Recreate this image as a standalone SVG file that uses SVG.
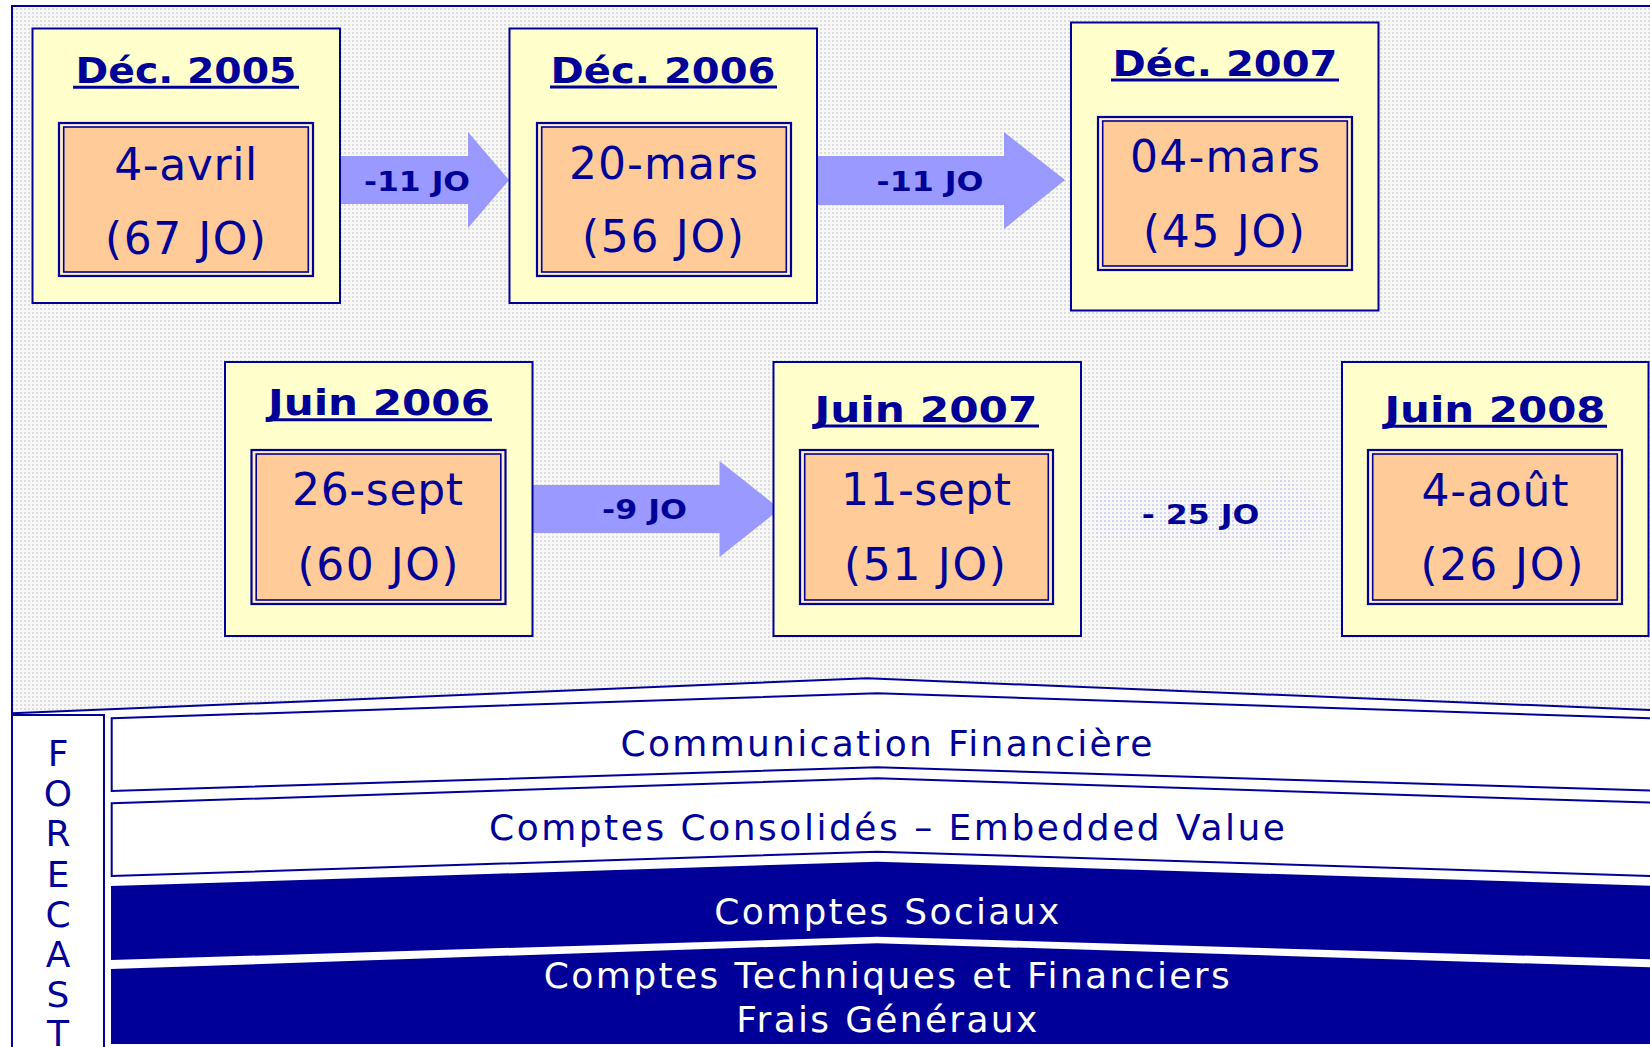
<svg xmlns="http://www.w3.org/2000/svg" width="1650" height="1047" viewBox="0 0 1650 1047">
<defs>
<pattern id="dots" width="4" height="4" patternUnits="userSpaceOnUse">
<rect width="4" height="4" fill="#f7f7f7"/>
<rect width="2" height="2" fill="#dddddd"/>
</pattern>
<pattern id="bdots" width="4" height="4" patternUnits="userSpaceOnUse">
<rect width="2" height="2" fill="#c8c8ff"/>
</pattern>
</defs>
<style>
.box{fill:#ffffcc;stroke:#000099;stroke-width:2}
.io{fill:#ffeec8;stroke:#000099;stroke-width:2.2}
.ii{fill:#ffcc99;stroke:#000099;stroke-width:1.6}
.t{font-family:"DejaVu Sans",Verdana,sans-serif;fill:#000099;text-anchor:middle}
.title{font-weight:bold;font-size:36px}
.ul{stroke:#000099;stroke-width:3}
.val{font-size:44px}
.arrow{fill:#9999ff}
.al{font-weight:bold;font-size:26px}
.band{fill:#ffffff;stroke:#000099;stroke-width:2}
.dband{fill:#000099}
.bt{font-size:36px}
.w{fill:#ffffff}
.fc{font-size:36px}
.frame{fill:none;stroke:#000099;stroke-width:2}
</style>
<rect x="0" y="0" width="1650" height="1047" fill="#ffffff"/>
<rect x="12" y="6" width="1640" height="1045" fill="url(#dots)"/>
<path class="frame" d="M12,1047 V6 H1652"/>

<g id="connectors">
<g id="arrow-1">
<polygon class="arrow" points="341,156 468,156 468,132 509,180 468,228 468,204 341,204"/>
<text class="t al" x="417" y="190.7" textLength="106" lengthAdjust="spacingAndGlyphs">-11 JO</text>
</g>
<g id="arrow-2">
<polygon class="arrow" points="818,156 1004,156 1004,132 1065,180 1004,229 1004,205 818,205"/>
<text class="t al" x="930" y="190.7" textLength="107" lengthAdjust="spacingAndGlyphs">-11 JO</text>
</g>
<g id="arrow-3">
<polygon class="arrow" points="533,485 719.5,485 719.5,461 780,509 719.5,557 719.5,533 533,533"/>
<text class="t al" x="644.5" y="519.3" textLength="85" lengthAdjust="spacingAndGlyphs">-9 JO</text>
</g>
<g id="arrow-4">
<polygon fill="url(#bdots)" opacity="0.5" points="1095,492 1275,492 1275,468 1330,515 1275,563 1275,538 1095,538"/>
<text class="t al" x="1200.5" y="524" textLength="117.6" lengthAdjust="spacingAndGlyphs">- 25 JO</text>
</g>
</g>

<g id="node-dec2005">
<rect class="box" x="32.5" y="28.5" width="307.5" height="274.5"/>
<text class="t title" x="186" y="83" textLength="221" lengthAdjust="spacingAndGlyphs">Déc. 2005</text>
<line class="ul" x1="73" y1="87.3" x2="299" y2="87.3"/>
<rect class="io" x="59" y="123" width="254" height="153"/>
<rect class="ii" x="63.7" y="127" width="244.6" height="145"/>
<text class="t val" x="185.7" y="180" textLength="143" lengthAdjust="spacing">4-avril</text>
<text class="t val" x="185.5" y="254" textLength="161" lengthAdjust="spacing">(67 JO)</text>
</g>

<g id="node-dec2006">
<rect class="box" x="509.5" y="28.5" width="307.5" height="274.5"/>
<text class="t title" x="663" y="83" textLength="225" lengthAdjust="spacingAndGlyphs">Déc. 2006</text>
<line class="ul" x1="550" y1="87" x2="777" y2="87"/>
<rect class="io" x="537" y="123" width="254" height="153"/>
<rect class="ii" x="541.7" y="127" width="244.6" height="145"/>
<text class="t val" x="663.5" y="178.5" textLength="189" lengthAdjust="spacing">20-mars</text>
<text class="t val" x="663" y="252" textLength="162" lengthAdjust="spacing">(56 JO)</text>
</g>

<g id="node-dec2007">
<rect class="box" x="1071" y="22.5" width="307.5" height="288"/>
<text class="t title" x="1225" y="76" textLength="225" lengthAdjust="spacingAndGlyphs">Déc. 2007</text>
<line class="ul" x1="1111" y1="80" x2="1339" y2="80"/>
<rect class="io" x="1098" y="117" width="254" height="153"/>
<rect class="ii" x="1102.7" y="121" width="244.6" height="145"/>
<text class="t val" x="1225" y="172" textLength="190" lengthAdjust="spacing">04-mars</text>
<text class="t val" x="1224" y="246.7" textLength="162" lengthAdjust="spacing">(45 JO)</text>
</g>

<g id="node-juin2006">
<rect class="box" x="225" y="362" width="307.5" height="274"/>
<text class="t title" x="379" y="415" textLength="222" lengthAdjust="spacingAndGlyphs">Juin 2006</text>
<line class="ul" x1="266" y1="419.7" x2="492" y2="419.7"/>
<rect class="io" x="251.5" y="450" width="254" height="154"/>
<rect class="ii" x="256.2" y="454" width="244.6" height="146"/>
<text class="t val" x="377.5" y="505" textLength="171" lengthAdjust="spacing">26-sept</text>
<text class="t val" x="378" y="580" textLength="161" lengthAdjust="spacing">(60 JO)</text>
</g>

<g id="node-juin2007">
<rect class="box" x="773.5" y="362" width="307.5" height="274"/>
<text class="t title" x="926" y="421.7" textLength="223" lengthAdjust="spacingAndGlyphs">Juin 2007</text>
<line class="ul" x1="813" y1="426" x2="1039" y2="426"/>
<rect class="io" x="800" y="450" width="253" height="154"/>
<rect class="ii" x="804.7" y="454" width="243.6" height="146"/>
<text class="t val" x="926" y="505" textLength="170" lengthAdjust="spacing">11-sept</text>
<text class="t val" x="925" y="580" textLength="162" lengthAdjust="spacing">(51 JO)</text>
</g>

<g id="node-juin2008">
<rect class="box" x="1342" y="362" width="306.5" height="274"/>
<text class="t title" x="1495" y="421.7" textLength="221" lengthAdjust="spacingAndGlyphs">Juin 2008</text>
<line class="ul" x1="1383" y1="426.3" x2="1607" y2="426.3"/>
<rect class="io" x="1368" y="450" width="254" height="154"/>
<rect class="ii" x="1372.7" y="454" width="244.6" height="146"/>
<text class="t val" x="1495" y="506" textLength="147" lengthAdjust="spacing">4-août</text>
<text class="t val" x="1502" y="580" textLength="163" lengthAdjust="spacing">(26 JO)</text>
</g>

<g id="bottom-area">
<polygon fill="#ffffff" points="12,713.3 867,678.3 1652,710 1652,1047 12,1047"/>
<polyline fill="none" stroke="#000099" stroke-width="2" points="12,713.3 867,678.3 1652,710"/>
</g>

<g id="node-forecast">
<rect fill="#ffffff" stroke="#000099" stroke-width="2" x="12" y="715" width="92" height="340"/>
<text class="t fc" x="58" y="766">F</text>
<text class="t fc" x="58" y="806.2">O</text>
<text class="t fc" x="58" y="846.4">R</text>
<text class="t fc" x="58" y="886.6">E</text>
<text class="t fc" x="58" y="926.8">C</text>
<text class="t fc" x="58" y="967">A</text>
<text class="t fc" x="58" y="1007.2">S</text>
<text class="t fc" x="58" y="1046">T</text>
</g>

<g id="node-communication">
<polygon class="band" points="111.7,718.3 877,693.3 1653,718.3 1653,790.7 877,767.3 111.7,791"/>
<text class="t bt" x="886.5" y="755.5" textLength="532" lengthAdjust="spacing">Communication Financière</text>
</g>

<g id="node-consolides">
<polygon class="band" points="111.7,803.3 877,778.3 1653,802.7 1653,876 877,851.7 111.7,876"/>
<text class="t bt" x="887" y="840" textLength="796" lengthAdjust="spacing">Comptes Consolidés – Embedded Value</text>
</g>

<g id="node-sociaux">
<polygon class="dband" points="111,886 877,861.7 1652,885.7 1652,959.3 877,936.7 111,960"/>
<text class="t bt w" x="886.7" y="924.3" textLength="345" lengthAdjust="spacing">Comptes Sociaux</text>
</g>

<g id="node-techniques">
<polygon class="dband" points="111,969 877,943.3 1652,967.3 1652,1044 111,1044"/>
<text class="t bt w" x="886.8" y="988.3" textLength="686" lengthAdjust="spacing">Comptes Techniques et Financiers</text>
<text class="t bt w" x="886.7" y="1032.3" textLength="301" lengthAdjust="spacing">Frais Généraux</text>
</g>
</svg>
